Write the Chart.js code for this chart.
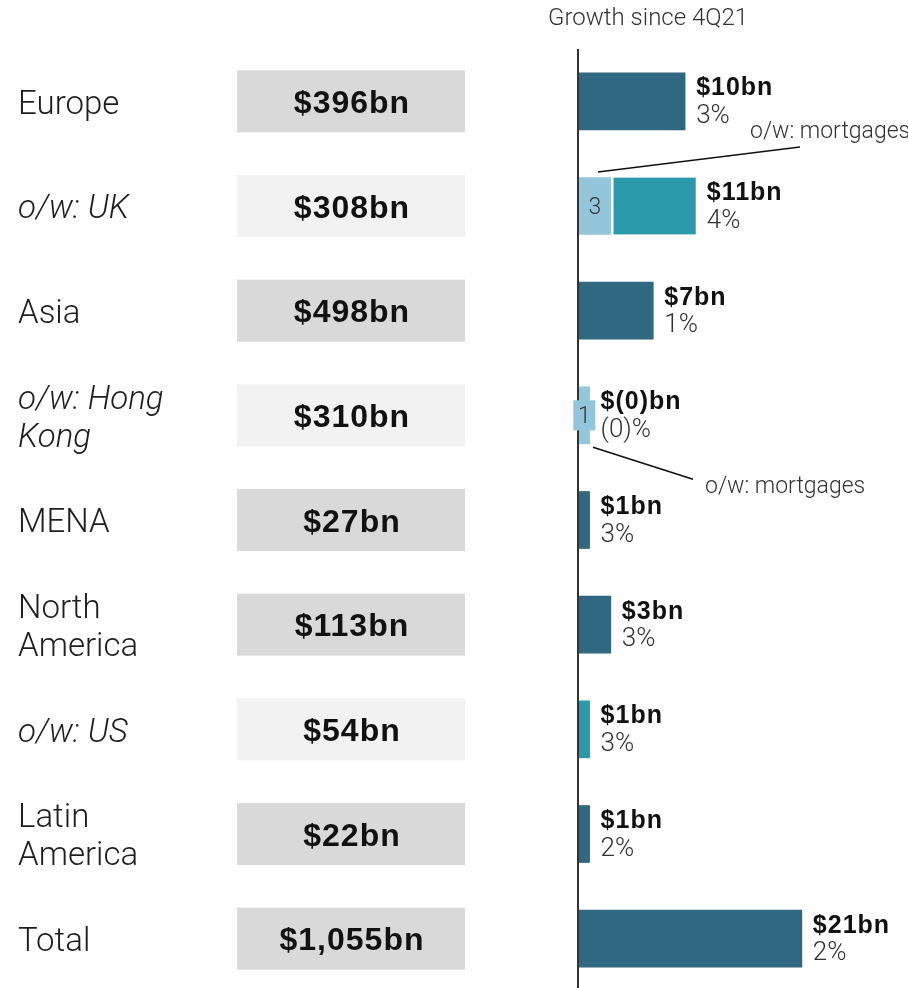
<!DOCTYPE html>
<html>
<head>
<meta charset="utf-8">
<script src="https://cdn.jsdelivr.net/npm/chart.js@4.4.0/dist/chart.umd.min.js"></script>
<style>
  html, body { margin: 0; padding: 0; background: #fff; overflow: hidden; }
  #wrap { width: 908px; height: 992px; }
</style>
</head>
<body>
<div id="wrap"><canvas id="myChart" width="908" height="992"></canvas></div>
<script>
const regions = [['Europe'], ['o/w: UK'], ['Asia'], ['o/w: Hong', 'Kong'], ['MENA'], ['North', 'America'], ['o/w: US'], ['Latin', 'America'], ['Total']];
const isSubRegion = [false, true, false, true, false, false, true, false, false];
const balances = ['$396bn', '$308bn', '$498bn', '$310bn', '$27bn', '$113bn', '$54bn', '$22bn', '$1,055bn'];
const mortgageGrowth = [null, 3, null, 1, null, null, null, null, null];
const otherGrowth = [10, 8, 7, null, 1, 3, 1, 1, 21];
const growthLabels = ['$10bn', '$11bn', '$7bn', '$(0)bn', '$1bn', '$3bn', '$1bn', '$1bn', '$21bn'];
const growthPct = ['3%', '4%', '1%', '(0)%', '3%', '3%', '3%', '2%', '2%'];

const DARK = '#2f6880';
const TEAL = '#2a99aa';
const LIGHT = '#93c6da';
const TEXT = '#1e1e1e';
const LIGHT_FONT = 'Roboto';
const BOLD_FONT = '"Liberation Sans", Arial, sans-serif';

// dibuja etiquetas, cajas y anotaciones alrededor de las barras
const overlayPlugin = {
    id: 'overlay',
    afterDatasetsDraw(chart) {
        const ctx = chart.ctx;
        const x = chart.scales.x;
        const y = chart.scales.y;
        const area = chart.chartArea;
        const x0 = x.getPixelForValue(0);

        ctx.save();
        ctx.textBaseline = 'middle';

        // title
        ctx.fillStyle = '#333';
        ctx.font = '300 24px ' + LIGHT_FONT;
        ctx.textAlign = 'left';
        ctx.fillText('Growth since 4Q21', 548, 19);

        // axis line
        ctx.strokeStyle = '#333';
        ctx.lineWidth = 2;
        ctx.beginPath();
        ctx.moveTo(x0 - 1, area.top);
        ctx.lineTo(x0 - 1, chart.height);
        ctx.stroke();

        regions.forEach((lines, i) => {
            const yc = y.getPixelForValue(i);

            // region name
            ctx.fillStyle = TEXT;
            ctx.textAlign = 'left';
            ctx.font = (isSubRegion[i] ? 'italic ' : '') + '300 33px ' + LIGHT_FONT;
            lines.forEach((line, k) => {
                ctx.fillText(line, 18, yc + 4 + (k - (lines.length - 1) / 2) * 38);
            });

            // balance box
            ctx.fillStyle = isSubRegion[i] ? '#f2f2f2' : '#d9d9d9';
            ctx.fillRect(237, yc - 31, 228, 62);
            ctx.fillStyle = '#111';
            ctx.textAlign = 'center';
            ctx.font = 'bold 32px ' + BOLD_FONT;
            ctx.letterSpacing = '1px';
            ctx.fillText(balances[i], 352, yc + 3);
            ctx.letterSpacing = '0px';

            // growth labels
            const total = (mortgageGrowth[i] || 0) + (otherGrowth[i] || 0);
            const xe = x.getPixelForValue(total) + 11;
            ctx.textAlign = 'left';
            ctx.fillStyle = '#111';
            ctx.font = 'bold 25px ' + BOLD_FONT;
            ctx.letterSpacing = '1px';
            ctx.fillText(growthLabels[i], xe, yc - 13);
            ctx.letterSpacing = '0px';
            ctx.fillStyle = '#333';
            ctx.font = '300 26px ' + LIGHT_FONT;
            ctx.fillText(growthPct[i], xe, yc + 15);

            // mortgage values
            if (mortgageGrowth[i]) {
                const xs = x.getPixelForValue(0);
                const xm = x.getPixelForValue(mortgageGrowth[i]);
                const cx = (xs + xm) / 2;
                if (xm - xs < 20) {
                    ctx.fillStyle = LIGHT;
                    ctx.fillRect(cx - 11, yc - 15, 22, 30);
                }
                ctx.fillStyle = '#333';
                ctx.textAlign = 'center';
                ctx.font = '300 23px ' + LIGHT_FONT;
                ctx.fillText(String(mortgageGrowth[i]), cx, yc + 2);
            }
        });

        // callouts
        ctx.strokeStyle = '#111';
        ctx.lineWidth = 1.5;
        ctx.fillStyle = '#333';
        ctx.font = '300 23px ' + LIGHT_FONT;
        ctx.textAlign = 'left';

        const yUk = y.getPixelForValue(1);
        ctx.beginPath();
        ctx.moveTo(598, yUk - 34);
        ctx.lineTo(800, yUk - 59);
        ctx.stroke();
        ctx.fillText('o/w: mortgages', 750, yUk - 74);

        const yHk = y.getPixelForValue(3);
        ctx.beginPath();
        ctx.moveTo(593, yHk + 32);
        ctx.lineTo(693, yHk + 64);
        ctx.stroke();
        ctx.fillText('o/w: mortgages', 705, yHk + 72);

        ctx.restore();
    }
};

const ctx = document.getElementById('myChart').getContext('2d');
const myChart = new Chart(ctx, {
    type: 'bar',
    data: {
        labels: regions.map(r => r.join(' ')),
        datasets: [
            {
                label: 'Mortgages',
                data: mortgageGrowth,
                backgroundColor: LIGHT,
                stack: 'g',
                barThickness: 57
            },
            {
                label: 'Growth',
                data: otherGrowth,
                backgroundColor: otherGrowth.map((v, i) => isSubRegion[i] ? TEAL : DARK),
                borderColor: '#fff',
                borderSkipped: false,
                borderWidth: c => mortgageGrowth[c.dataIndex] ? { left: 3, right: 0, top: 0, bottom: 0 } : 0,
                stack: 'g',
                barThickness: 57
            }
        ]
    },
    options: {
        indexAxis: 'y',
        responsive: false,
        animation: false,
        layout: { padding: { left: 579, right: 0, top: 49, bottom: 1 } },
        plugins: {
            legend: { display: false },
            tooltip: { enabled: false }
        },
        scales: {
            x: { type: 'linear', min: 0, max: 31.0, stacked: true, display: false },
            y: { stacked: true, display: false }
        }
    },
    plugins: [overlayPlugin]
});
</script>
</body>
</html>
